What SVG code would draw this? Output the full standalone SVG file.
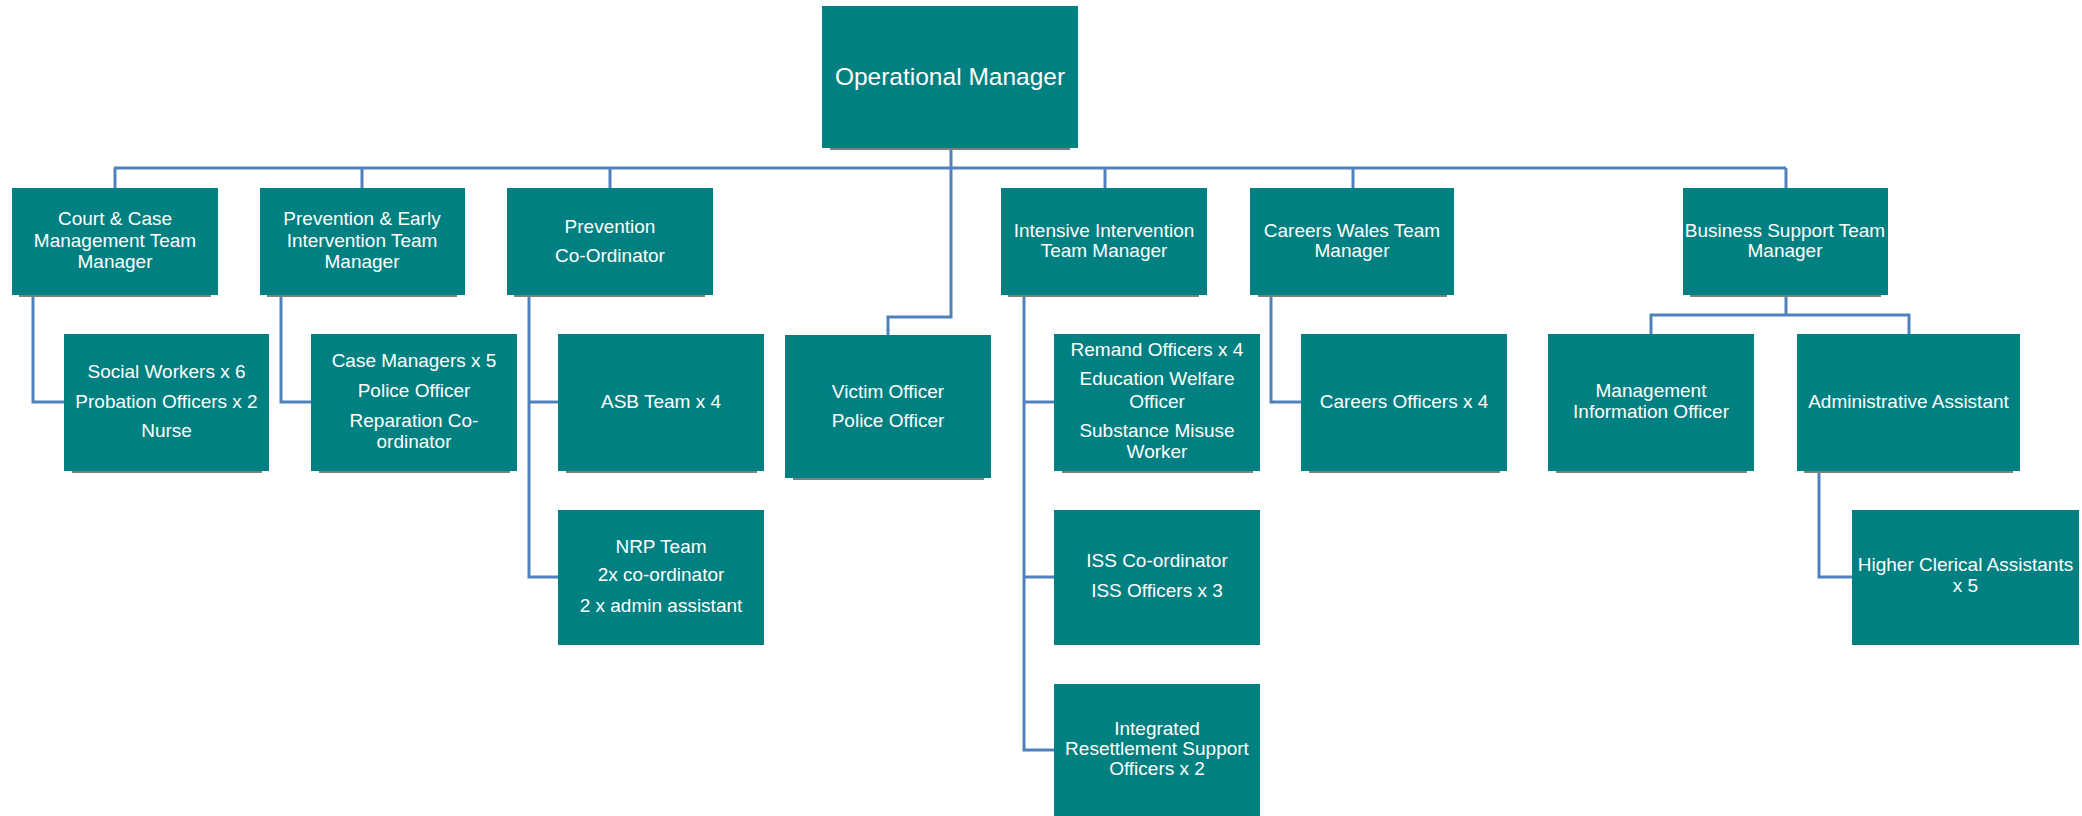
<svg xmlns="http://www.w3.org/2000/svg" width="2082" height="816" viewBox="0 0 2082 816">
<style>
.box{fill:#008080}
.sh{fill:#7f7f7f}
.t{font-family:"Liberation Sans",Arial,sans-serif;font-size:19px;fill:#ffffff;text-anchor:middle}
.big{font-size:24.5px}
.c{fill:none;stroke:#4f81bd;stroke-width:3}
</style>
<rect width="2082" height="816" fill="#ffffff"/>
<g id="connectors">
<path class="c" d="M951,148V168M114,168H1786M115,168V188M362,168V188M610,168V188M1105,168V188M1353,168V188M1786,168V188"/>
<path class="c" d="M951,168V317H888V335"/>
<path class="c" d="M33,295V402H64"/>
<path class="c" d="M281,295V402H311"/>
<path class="c" d="M529,295V577H558M529,402H558"/>
<path class="c" d="M1024,295V750H1054M1024,402H1054M1024,577H1054"/>
<path class="c" d="M1271,295V402H1301"/>
<path class="c" d="M1786,295V315M1651,334V315H1909V334"/>
<path class="c" d="M1819,471V577H1852"/>
</g>
<g id="operational-manager">
<rect class="sh" x="830" y="146" width="240" height="4"/>
<rect class="box" x="822" y="6" width="256" height="142"/>
<text class="t big" x="950" y="85">Operational Manager</text>
</g>
<g id="court-case">
<rect class="sh" x="19" y="293" width="192" height="4"/>
<rect class="box" x="12" y="188" width="206" height="107"/>
<text class="t" x="115" y="225">Court &amp; Case</text>
<text class="t" x="115" y="247">Management Team</text>
<text class="t" x="115" y="268">Manager</text>
</g>
<g id="prevention-early">
<rect class="sh" x="267" y="293" width="190" height="4"/>
<rect class="box" x="260" y="188" width="205" height="107"/>
<text class="t" x="362" y="225">Prevention &amp; Early</text>
<text class="t" x="362" y="247">Intervention Team</text>
<text class="t" x="362" y="268">Manager</text>
</g>
<g id="prevention-coordinator">
<rect class="sh" x="514" y="293" width="191" height="4"/>
<rect class="box" x="507" y="188" width="206" height="107"/>
<text class="t" x="610" y="233">Prevention</text>
<text class="t" x="610" y="262">Co-Ordinator</text>
</g>
<g id="intensive-intervention">
<rect class="sh" x="1008" y="293" width="191" height="4"/>
<rect class="box" x="1001" y="188" width="206" height="107"/>
<text class="t" x="1104" y="237">Intensive Intervention</text>
<text class="t" x="1104" y="257">Team Manager</text>
</g>
<g id="careers-wales">
<rect class="sh" x="1258" y="293" width="189" height="4"/>
<rect class="box" x="1250" y="188" width="204" height="107"/>
<text class="t" x="1352" y="237">Careers Wales Team</text>
<text class="t" x="1352" y="257">Manager</text>
</g>
<g id="business-support">
<rect class="sh" x="1690" y="293" width="191" height="4"/>
<rect class="box" x="1683" y="188" width="205" height="107"/>
<text class="t" x="1785" y="237">Business Support Team</text>
<text class="t" x="1785" y="257">Manager</text>
</g>
<g id="social-workers">
<rect class="sh" x="72" y="469" width="190" height="4"/>
<rect class="box" x="64" y="334" width="205" height="137"/>
<text class="t" x="166.5" y="378">Social Workers x 6</text>
<text class="t" x="166.5" y="408">Probation Officers x 2</text>
<text class="t" x="166.5" y="437">Nurse</text>
</g>
<g id="case-managers">
<rect class="sh" x="319" y="469" width="191" height="4"/>
<rect class="box" x="311" y="334" width="206" height="137"/>
<text class="t" x="414" y="367">Case Managers x 5</text>
<text class="t" x="414" y="397">Police Officer</text>
<text class="t" x="414" y="427">Reparation Co-</text>
<text class="t" x="414" y="448">ordinator</text>
</g>
<g id="asb-team">
<rect class="sh" x="566" y="469" width="191" height="4"/>
<rect class="box" x="558" y="334" width="206" height="137"/>
<text class="t" x="661" y="408">ASB Team x 4</text>
</g>
<g id="victim-officer">
<rect class="sh" x="793" y="476" width="191" height="4"/>
<rect class="box" x="785" y="335" width="206" height="143"/>
<text class="t" x="888" y="398">Victim Officer</text>
<text class="t" x="888" y="427">Police Officer</text>
</g>
<g id="remand-officers">
<rect class="sh" x="1062" y="469" width="191" height="4"/>
<rect class="box" x="1054" y="334" width="206" height="137"/>
<text class="t" x="1157" y="356">Remand Officers x 4</text>
<text class="t" x="1157" y="385">Education Welfare</text>
<text class="t" x="1157" y="408">Officer</text>
<text class="t" x="1157" y="437">Substance Misuse</text>
<text class="t" x="1157" y="458">Worker</text>
</g>
<g id="careers-officers">
<rect class="sh" x="1309" y="469" width="191" height="4"/>
<rect class="box" x="1301" y="334" width="206" height="137"/>
<text class="t" x="1404" y="408">Careers Officers x 4</text>
</g>
<g id="management-information">
<rect class="sh" x="1556" y="469" width="191" height="4"/>
<rect class="box" x="1548" y="334" width="206" height="137"/>
<text class="t" x="1651" y="397">Management</text>
<text class="t" x="1651" y="418">Information Officer</text>
</g>
<g id="administrative-assistant">
<rect class="sh" x="1804" y="469" width="209" height="4"/>
<rect class="box" x="1797" y="334" width="223" height="137"/>
<text class="t" x="1908.5" y="408">Administrative Assistant</text>
</g>
<g id="nrp-team">
<rect class="box" x="558" y="510" width="206" height="135"/>
<text class="t" x="661" y="553">NRP Team</text>
<text class="t" x="661" y="581">2x co-ordinator</text>
<text class="t" x="661" y="612">2 x admin assistant</text>
</g>
<g id="iss">
<rect class="box" x="1054" y="510" width="206" height="135"/>
<text class="t" x="1157" y="567">ISS Co-ordinator</text>
<text class="t" x="1157" y="597">ISS Officers x 3</text>
</g>
<g id="integrated-resettlement">
<rect class="box" x="1054" y="684" width="206" height="135"/>
<text class="t" x="1157" y="735">Integrated</text>
<text class="t" x="1157" y="755">Resettlement Support</text>
<text class="t" x="1157" y="775">Officers x 2</text>
</g>
<g id="higher-clerical">
<rect class="box" x="1852" y="510" width="227" height="135"/>
<text class="t" x="1965.5" y="571">Higher Clerical Assistants</text>
<text class="t" x="1965.5" y="592">x 5</text>
</g>
</svg>
